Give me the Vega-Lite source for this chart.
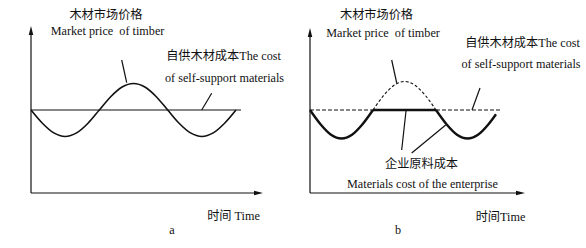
{
  "$schema": "https://vega.github.io/schema/vega-lite/v6.json",
  "background": "white",
  "padding": 0,
  "spacing": 0,
  "config": {
    "view": {"stroke": null},
    "text": {"font": "Liberation Serif, Noto Sans CJK SC", "fontSize": 12.2, "color": "#111"}
  },
  "resolve": {"scale": {"x": "independent", "y": "independent"}},
  "datasets": {
    "segs": [
      {"p": "a", "k": "axis", "x": 0, "y": 0, "x2": 0, "y2": 162},
      {"p": "a", "k": "axis", "x": 0, "y": 0, "x2": 227, "y2": 0},
      {"p": "a", "k": "level", "x": 0, "y": 83, "x2": 210, "y2": 83},
      {"p": "a", "k": "ptr", "x": 90.7, "y": 133, "x2": 95.7, "y2": 110.3},
      {"p": "a", "k": "ptr", "x": 180.7, "y": 99.7, "x2": 170.7, "y2": 83},
      {"p": "b", "k": "axis", "x": 0, "y": 0, "x2": 0, "y2": 160},
      {"p": "b", "k": "axis", "x": 0, "y": 0, "x2": 210, "y2": 0},
      {"p": "b", "k": "dash", "x": 0, "y": 83, "x2": 192, "y2": 83},
      {"p": "b", "k": "ptr", "x": 81.7, "y": 133, "x2": 86.7, "y2": 110},
      {"p": "b", "k": "ptr", "x": 170, "y": 105, "x2": 162, "y2": 83},
      {"p": "b", "k": "ptr", "x": 96, "y": 82, "x2": 91.7, "y2": 43},
      {"p": "b", "k": "ptr", "x": 135.7, "y": 68, "x2": 101.7, "y2": 40}
    ],
    "arrows": [
      {"p": "a", "d": "up", "x": 0, "y": 162},
      {"p": "a", "d": "right", "x": 227, "y": 0},
      {"p": "b", "d": "up", "x": 0, "y": 160},
      {"p": "b", "d": "right", "x": 210, "y": 0}
    ],
    "curves": [
      {"p": "a", "s": "price", "x": 0, "y": 83},
      {"p": "a", "s": "price", "x": 11.4, "y": 69.8},
      {"p": "a", "s": "price", "x": 22.8, "y": 60.1},
      {"p": "a", "s": "price", "x": 34.2, "y": 56.5},
      {"p": "a", "s": "price", "x": 45.6, "y": 60.1},
      {"p": "a", "s": "price", "x": 57, "y": 69.8},
      {"p": "a", "s": "price", "x": 68.3, "y": 83},
      {"p": "a", "s": "price", "x": 79.7, "y": 96.3},
      {"p": "a", "s": "price", "x": 91.1, "y": 106},
      {"p": "a", "s": "price", "x": 102.5, "y": 109.5},
      {"p": "a", "s": "price", "x": 113.9, "y": 106},
      {"p": "a", "s": "price", "x": 125.3, "y": 96.3},
      {"p": "a", "s": "price", "x": 136.7, "y": 83},
      {"p": "a", "s": "price", "x": 148.1, "y": 69.8},
      {"p": "a", "s": "price", "x": 159.5, "y": 60.1},
      {"p": "a", "s": "price", "x": 170.9, "y": 56.5},
      {"p": "a", "s": "price", "x": 182.2, "y": 60.1},
      {"p": "a", "s": "price", "x": 193.6, "y": 69.8},
      {"p": "a", "s": "price", "x": 205, "y": 83},
      {"p": "b", "s": "c1", "x": 0, "y": 83},
      {"p": "b", "s": "c1", "x": 10.5, "y": 68.8},
      {"p": "b", "s": "c1", "x": 21, "y": 58.3},
      {"p": "b", "s": "c1", "x": 31.5, "y": 54.5},
      {"p": "b", "s": "c1", "x": 42, "y": 58.3},
      {"p": "b", "s": "c1", "x": 52.5, "y": 68.8},
      {"p": "b", "s": "c1", "x": 63, "y": 83},
      {"p": "b", "s": "flat", "x": 63, "y": 83},
      {"p": "b", "s": "flat", "x": 126, "y": 83},
      {"p": "b", "s": "c2", "x": 126, "y": 83},
      {"p": "b", "s": "c2", "x": 136.5, "y": 68.8},
      {"p": "b", "s": "c2", "x": 147, "y": 58.3},
      {"p": "b", "s": "c2", "x": 157.5, "y": 54.5},
      {"p": "b", "s": "c2", "x": 168, "y": 58.3},
      {"p": "b", "s": "c2", "x": 178.5, "y": 68.8},
      {"p": "b", "s": "c2", "x": 186, "y": 78.8},
      {"p": "b", "s": "peak", "x": 63, "y": 83},
      {"p": "b", "s": "peak", "x": 73.5, "y": 97.3},
      {"p": "b", "s": "peak", "x": 84, "y": 107.7},
      {"p": "b", "s": "peak", "x": 94.5, "y": 111.5},
      {"p": "b", "s": "peak", "x": 105, "y": 107.7},
      {"p": "b", "s": "peak", "x": 115.5, "y": 97.3},
      {"p": "b", "s": "peak", "x": 126, "y": 83}
    ],
    "texts": [
      {"p": "a", "t": "木材市场价格", "x": 75, "y": 178},
      {"p": "a", "t": "Market price \u00a0of timber", "x": 76.5, "y": 162},
      {"p": "a", "t": "自供木材成本The cost", "x": 192.5, "y": 137},
      {"p": "a", "t": "of self-support materials", "x": 193.5, "y": 115},
      {"p": "a", "t": "时间 Time", "x": 202.5, "y": -23},
      {"p": "a", "t": "a", "x": 141, "y": -37},
      {"p": "b", "t": "木材市场价格", "x": 66.5, "y": 178},
      {"p": "b", "t": "Market price \u00a0of timber", "x": 73, "y": 160},
      {"p": "b", "t": "自供木材成本The cost", "x": 212.5, "y": 150},
      {"p": "b", "t": "of self-support materials", "x": 211, "y": 129},
      {"p": "b", "t": "企业原料成本", "x": 111.5, "y": 29},
      {"p": "b", "t": "Materials cost of the enterprise", "x": 112.5, "y": 9},
      {"p": "b", "t": "时间Time", "x": 190.5, "y": -24},
      {"p": "b", "t": "b", "x": 88, "y": -37}
    ]
  },
  "hconcat": [
    {
      "width": 293,
      "height": 248,
      "layer": [
        {
          "data": {"name": "segs"},
          "transform": [{"filter": "datum.p === 'a'"}],
          "mark": {"type": "rule", "color": "#111", "strokeWidth": 1.2},
          "encoding": {
            "x": {"field": "x", "type": "quantitative", "scale": {"domain": [-31, 262], "nice": false, "zero": false}, "axis": null},
            "y": {"field": "y", "type": "quantitative", "scale": {"domain": [-55, 193], "nice": false, "zero": false}, "axis": null},
            "x2": {"field": "x2"},
            "y2": {"field": "y2"}
          }
        },
        {
          "data": {"name": "arrows"},
          "transform": [{"filter": "datum.p === 'a' && datum.d === 'up'"}],
          "mark": {"type": "point", "shape": "M0,-1L0.45,0.8L-0.45,0.8Z", "filled": true, "color": "#111", "size": 100, "opacity": 1},
          "encoding": {
            "x": {"field": "x", "type": "quantitative"},
            "y": {"field": "y", "type": "quantitative"}
          }
        },
        {
          "data": {"name": "arrows"},
          "transform": [{"filter": "datum.p === 'a' && datum.d === 'right'"}],
          "mark": {"type": "point", "shape": "M0,-1L0.45,0.8L-0.45,0.8Z", "angle": 90, "filled": true, "color": "#111", "size": 100, "opacity": 1},
          "encoding": {
            "x": {"field": "x", "type": "quantitative"},
            "y": {"field": "y", "type": "quantitative"}
          }
        },
        {
          "data": {"name": "curves"},
          "transform": [{"filter": "datum.p === 'a'"}],
          "mark": {"type": "line", "color": "#111", "strokeWidth": 1.6, "interpolate": "monotone"},
          "encoding": {
            "x": {"field": "x", "type": "quantitative"},
            "y": {"field": "y", "type": "quantitative"},
            "detail": {"field": "s"}
          }
        },
        {
          "data": {"name": "texts"},
          "transform": [{"filter": "datum.p === 'a'"}],
          "mark": {"type": "text", "align": "center", "baseline": "middle"},
          "encoding": {
            "x": {"field": "x", "type": "quantitative"},
            "y": {"field": "y", "type": "quantitative"},
            "text": {"field": "t"}
          }
        }
      ]
    },
    {
      "width": 293,
      "height": 248,
      "layer": [
        {
          "data": {"name": "segs"},
          "transform": [{"filter": "datum.p === 'b' && datum.k !== 'dash'"}],
          "mark": {"type": "rule", "color": "#111", "strokeWidth": 1.2},
          "encoding": {
            "x": {"field": "x", "type": "quantitative", "scale": {"domain": [-17, 276], "nice": false, "zero": false}, "axis": null},
            "y": {"field": "y", "type": "quantitative", "scale": {"domain": [-55, 193], "nice": false, "zero": false}, "axis": null},
            "x2": {"field": "x2"},
            "y2": {"field": "y2"}
          }
        },
        {
          "data": {"name": "segs"},
          "transform": [{"filter": "datum.p === 'b' && datum.k === 'dash'"}],
          "mark": {"type": "rule", "color": "#111", "strokeWidth": 1.2, "strokeDash": [4, 2]},
          "encoding": {
            "x": {"field": "x", "type": "quantitative"},
            "y": {"field": "y", "type": "quantitative"},
            "x2": {"field": "x2"},
            "y2": {"field": "y2"}
          }
        },
        {
          "data": {"name": "arrows"},
          "transform": [{"filter": "datum.p === 'b' && datum.d === 'up'"}],
          "mark": {"type": "point", "shape": "M0,-1L0.45,0.8L-0.45,0.8Z", "filled": true, "color": "#111", "size": 100, "opacity": 1},
          "encoding": {
            "x": {"field": "x", "type": "quantitative"},
            "y": {"field": "y", "type": "quantitative"}
          }
        },
        {
          "data": {"name": "arrows"},
          "transform": [{"filter": "datum.p === 'b' && datum.d === 'right'"}],
          "mark": {"type": "point", "shape": "M0,-1L0.45,0.8L-0.45,0.8Z", "angle": 90, "filled": true, "color": "#111", "size": 100, "opacity": 1},
          "encoding": {
            "x": {"field": "x", "type": "quantitative"},
            "y": {"field": "y", "type": "quantitative"}
          }
        },
        {
          "data": {"name": "curves"},
          "transform": [{"filter": "datum.p === 'b' && datum.s === 'peak'"}],
          "mark": {"type": "line", "color": "#111", "strokeWidth": 1.1, "strokeDash": [3, 2], "interpolate": "monotone"},
          "encoding": {
            "x": {"field": "x", "type": "quantitative"},
            "y": {"field": "y", "type": "quantitative"}
          }
        },
        {
          "data": {"name": "curves"},
          "transform": [{"filter": "datum.p === 'b' && datum.s !== 'peak'"}],
          "mark": {"type": "line", "color": "#111", "strokeWidth": 2.4, "interpolate": "monotone"},
          "encoding": {
            "x": {"field": "x", "type": "quantitative"},
            "y": {"field": "y", "type": "quantitative"},
            "detail": {"field": "s"}
          }
        },
        {
          "data": {"name": "texts"},
          "transform": [{"filter": "datum.p === 'b'"}],
          "mark": {"type": "text", "align": "center", "baseline": "middle"},
          "encoding": {
            "x": {"field": "x", "type": "quantitative"},
            "y": {"field": "y", "type": "quantitative"},
            "text": {"field": "t"}
          }
        }
      ]
    }
  ]
}
